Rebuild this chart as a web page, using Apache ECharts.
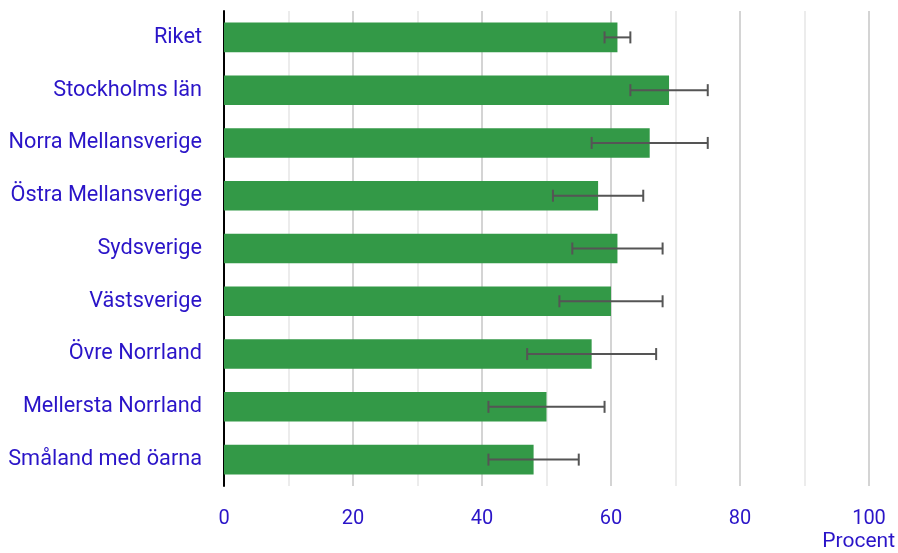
<!DOCTYPE html>
<html><head><meta charset="utf-8">
<script src="https://cdn.jsdelivr.net/npm/echarts@6/dist/echarts.min.js"></script>
<style>html,body{margin:0;padding:0;background:#fff}#c{width:898px;height:553px}</style>
</head><body><div id="c"></div>
<script>
const categories = ["Riket","Stockholms län","Norra Mellansverige","Östra Mellansverige","Sydsverige","Västsverige","Övre Norrland","Mellersta Norrland","Småland med öarna"];
const values = [61, 69, 66, 58, 61, 60, 57, 50, 48];
const lower = [59, 63, 57, 51, 54, 52, 47, 41, 41];
const upper = [63, 75, 75, 65, 68, 68, 67, 59, 55];
const xTicks = [0, 20, 40, 60, 80, 100];

const chart = echarts.init(document.getElementById('c'), null, {renderer: 'canvas'});
const blue = '#2a14c8';
const errData = categories.map((c, i) => [i, lower[i], upper[i]]);
chart.setOption({
  animation: false,
  grid: {left: 224, right: 29, top: 11, bottom: 67},
  xAxis: {
    type: 'value', min: 0, max: 100, interval: 10,
    axisLine: {show: false}, axisTick: {show: false},
    splitLine: {show: true, lineStyle: {color: ['#d4d4d4','#ececec'], width: 2}},
    axisLabel: {
      color: blue, fontFamily: 'Roboto', fontSize: 20, margin: 23,
      formatter: v => xTicks.includes(v) ? String(v) : ''
    }
  },
  yAxis: {
    type: 'category', data: categories, inverse: true,
    axisLine: {show: true, lineStyle: {color: '#000', width: 2}},
    axisTick: {show: false},
    axisLabel: {color: blue, fontFamily: 'Roboto', fontSize: 21.7, margin: 22, padding: [3, 0, 0, 0]}
  },
  series: [
    {
      type: 'bar', data: values, barWidth: '56%',
      itemStyle: {color: '#339947'}, z: 2
    },
    {
      type: 'custom', z: 3,
      data: errData,
      renderItem: function (params, api) {
        const ci = api.value(0);
        const lo = api.coord([api.value(1), ci]);
        const hi = api.coord([api.value(2), ci]);
        const h = 12;
        const style = {stroke: '#555', lineWidth: 2};
        return {
          type: 'group',
          children: [
            {type: 'line', shape: {x1: lo[0], y1: lo[1], x2: hi[0], y2: hi[1]}, style: style},
            {type: 'line', shape: {x1: lo[0], y1: lo[1]-h/2, x2: lo[0], y2: lo[1]+h/2}, style: style},
            {type: 'line', shape: {x1: hi[0], y1: hi[1]-h/2, x2: hi[0], y2: hi[1]+h/2}, style: style}
          ]
        };
      },
      encode: {x: [1, 2], y: 0}
    }
  ],
  graphic: [{
    type: 'text', right: 3, top: 531,
    style: {text: 'Procent', fill: blue, font: '21px Roboto'}
  }]
});
</script></body></html>
